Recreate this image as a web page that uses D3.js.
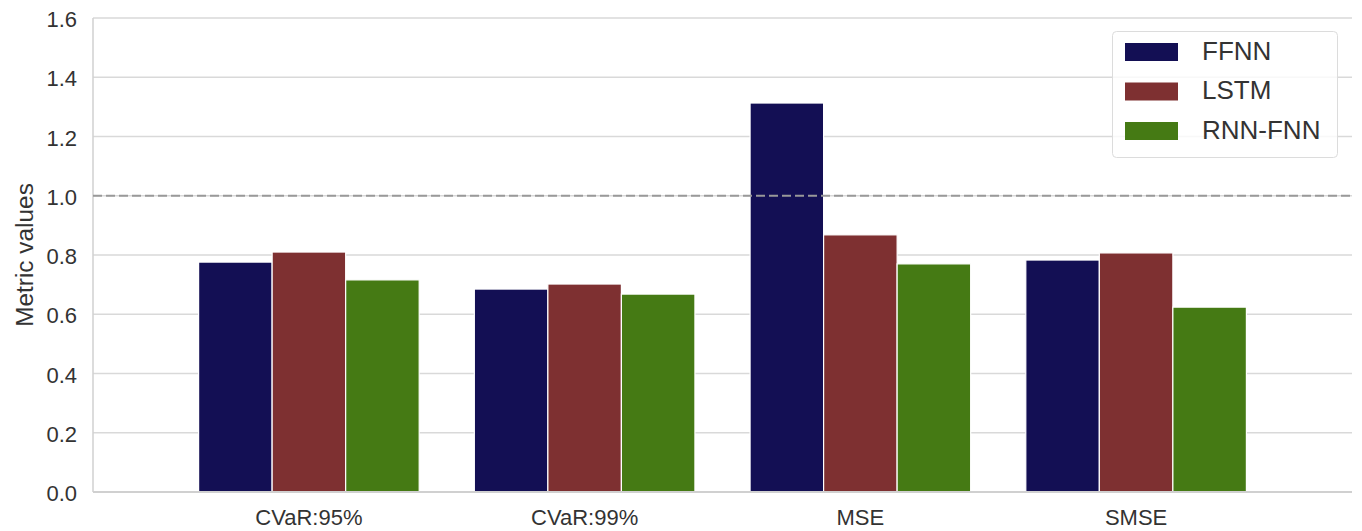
<!DOCTYPE html>
<html><head><meta charset="utf-8">
<script src="https://cdn.jsdelivr.net/npm/d3@7"></script>
<style>body{margin:0;background:#fff;} text{font-family:"Liberation Sans",Arial,sans-serif;}</style>
</head><body>
<svg id="chart" width="1362" height="531"></svg>
<script>
const categories = ["CVaR:95%", "CVaR:99%", "MSE", "SMSE"];
const seriesNames = ["FFNN", "LSTM", "RNN-FNN"];
const ffnn = [0.776, 0.685, 1.313, 0.783];
const lstm = [0.810, 0.702, 0.868, 0.807];
const rnnfnn = [0.716, 0.668, 0.770, 0.624];
const yTicks = [0.0, 0.2, 0.4, 0.6, 0.8, 1.0, 1.2, 1.4, 1.6];
const refLine = 1.0;
const colors = ["#130f54", "#7e3031", "#457a14"];

const series = [ffnn, lstm, rnnfnn];
const svg = d3.select("#chart");
const L = 93, R = 1352, T = 18, B = 492;
const x = d3.scaleLinear().domain([-0.783, categories.length - 1 + 0.783]).range([L, R]);
const y = d3.scaleLinear().domain([0, 1.6]).range([B, T]);
const groupW = 0.8, barW = groupW / series.length;

// grid
svg.append("g").selectAll("line").data(yTicks).join("line")
  .attr("x1", L).attr("x2", R).attr("y1", d => y(d)).attr("y2", d => y(d))
  .attr("stroke", "#d9d9d9").attr("stroke-width", 1.3);

// bars
series.forEach((vals, si) => {
  svg.append("g").selectAll("rect").data(vals).join("rect")
    .attr("x", (d, i) => x(i - groupW / 2 + si * barW))
    .attr("width", x(barW) - x(0))
    .attr("y", d => y(d))
    .attr("height", d => y(0) - y(d))
    .attr("fill", colors[si])
    .attr("stroke", "#fff").attr("stroke-width", 1.2);
});

// spines
svg.append("line").attr("x1", L).attr("x2", L).attr("y1", T).attr("y2", B).attr("stroke", "#d0d0d0").attr("stroke-width", 1.5);
svg.append("line").attr("x1", L).attr("x2", R).attr("y1", B).attr("y2", B).attr("stroke", "#d0d0d0").attr("stroke-width", 2);

// reference line
svg.append("line").attr("x1", L).attr("x2", R).attr("y1", y(refLine)).attr("y2", y(refLine))
  .attr("stroke", "#999").attr("stroke-width", 2).attr("stroke-dasharray", "9,4");

// y ticks
svg.append("g").selectAll("text").data(yTicks).join("text")
  .attr("x", 77).attr("y", d => y(d)).attr("dy", "0.42em").attr("text-anchor", "end")
  .attr("font-size", 22).attr("fill", "#333").text(d => d.toFixed(1));

// x ticks
svg.append("g").selectAll("text").data(categories).join("text")
  .attr("x", (d, i) => x(i)).attr("y", 525).attr("text-anchor", "middle")
  .attr("font-size", 22).attr("fill", "#333").text(d => d);

// y label
svg.append("text").attr("transform", `translate(33,${(T + B) / 2}) rotate(-90)`)
  .attr("text-anchor", "middle").attr("font-size", 24.4).attr("fill", "#333").text("Metric values");

// legend
const lg = svg.append("g");
lg.append("rect").attr("x", 1112.5).attr("y", 31.5).attr("width", 225).attr("height", 126).attr("rx", 4)
  .attr("fill", "#fff").attr("fill-opacity", 0.8).attr("stroke", "#dcdcdc").attr("stroke-width", 1);
seriesNames.forEach((n, i) => {
  lg.append("rect").attr("x", 1125).attr("y", 43 + i * 39.5).attr("width", 53).attr("height", 18).attr("fill", colors[i]);
  lg.append("text").attr("x", 1202).attr("y", 59.5 + i * 39.5).attr("font-size", 26).attr("fill", "#333").text(n);
});
</script>
</body></html>
